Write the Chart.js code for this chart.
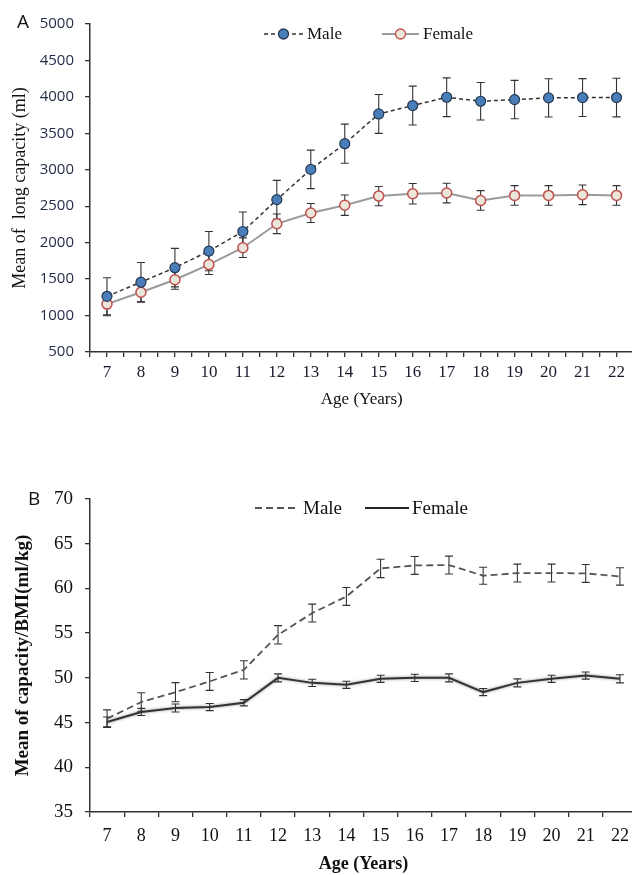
<!DOCTYPE html>
<html>
<head>
<meta charset="utf-8">
<script src="https://cdn.jsdelivr.net/npm/chart.js@4.4.0/dist/chart.umd.min.js"></script>
<style>
  html, body { margin: 0; padding: 0; background: #fff; overflow: hidden; width: 632px; height: 875px; }
  .box { position: absolute; left: 0; width: 640px; }
  #boxA { top: 0; height: 410px; }
  #boxB { top: 470px; height: 405px; }
</style>
</head>
<body>
<div class="box" id="boxA"><canvas id="chartA"></canvas></div>
<div class="box" id="boxB"><canvas id="chartB"></canvas></div>
<script>
// ages on the x axis
const ages = [7, 8, 9, 10, 11, 12, 13, 14, 15, 16, 17, 18, 19, 20, 21, 22];

// panel A: lung capacity (ml), mean and error
const maleCapacity   = [1264, 1458, 1657, 1884, 2153, 2590, 3005, 3358, 3766, 3881, 3995, 3940, 3963, 3986, 3991, 3991];
const maleCapacityErr = [255, 270, 264, 270, 268, 265, 264, 268, 266, 266, 266, 257, 263, 262, 260, 265];
const femaleCapacity = [1157, 1320, 1491, 1699, 1931, 2259, 2407, 2514, 2639, 2671, 2681, 2579, 2648, 2648, 2657, 2648];
const femaleCapacityErr = [160, 132, 130, 135, 135, 135, 130, 140, 132, 140, 135, 135, 135, 135, 135, 135];
const capacityTicks = [500, 1000, 1500, 2000, 2500, 3000, 3500, 4000, 4500, 5000];

// panel B: capacity / BMI (ml/kg)
const maleRatio   = [45.44, 47.3, 48.4, 49.6, 50.9, 54.81, 57.24, 59.1, 62.24, 62.57, 62.61, 61.42, 61.72, 61.72, 61.68, 61.34];
const maleRatioErr = [0.98, 1.04, 1.07, 1.0, 1.02, 1.03, 1.0, 1.0, 1.03, 1.0, 1.0, 0.95, 1.0, 1.0, 1.0, 0.97];
const femaleRatio = [45.07, 46.19, 46.63, 46.74, 47.22, 50.0, 49.44, 49.22, 49.89, 50.0, 50.0, 48.41, 49.44, 49.89, 50.26, 49.89];
const femaleRatioErr = [0.55, 0.4, 0.45, 0.4, 0.35, 0.45, 0.4, 0.4, 0.4, 0.4, 0.45, 0.4, 0.45, 0.4, 0.4, 0.45];
const ratioTicks = [35, 40, 45, 50, 55, 60, 65, 70];

const SERIF = '"Liberation Serif", "Times New Roman", serif';
const SANS = '"Open Sans", "Noto Sans", sans-serif';

// error bars drawn through the chart's own scales
const errorBars = {
    id: 'errorBars',
    beforeDatasetsDraw(chart) {
        const ctx = chart.ctx;
        const yScale = chart.scales.y;
        chart.data.datasets.forEach((ds, di) => {
            if (!ds.errors) return;
            const meta = chart.getDatasetMeta(di);
            ctx.save();
            ctx.strokeStyle = ds.errorColor || '#333';
            ctx.lineWidth = 1.1;
            meta.data.forEach((pt, i) => {
                const v = ds.data[i];
                const val = typeof v === 'object' ? v.y : v;
                const top = yScale.getPixelForValue(val + ds.errors[i]);
                const bot = yScale.getPixelForValue(val - ds.errors[i]);
                const x = pt.x, w = 4;
                ctx.beginPath();
                ctx.moveTo(x, top); ctx.lineTo(x, bot);
                ctx.moveTo(x - w, top); ctx.lineTo(x + w, top);
                ctx.moveTo(x - w, bot); ctx.lineTo(x + w, bot);
                ctx.stroke();
            });
            ctx.restore();
        });
    },
    // soft grey halo under lines that ask for it
    beforeDatasetDraw(chart, args) {
        const ds = chart.data.datasets[args.index];
        if (ds.halo) {
            chart.ctx.save();
            chart.ctx.shadowColor = 'rgba(0,0,0,0.45)';
            chart.ctx.shadowBlur = 3;
        }
    },
    afterDatasetDraw(chart, args) {
        if (chart.data.datasets[args.index].halo) chart.ctx.restore();
    }
};

// legend + panel letter
const keyPlugin = {
    id: 'keyPlugin',
    afterDraw(chart, args, opts) {
        const ctx = chart.ctx;
        ctx.save();
        ctx.fillStyle = '#111';
        ctx.font = '19px ' + SANS;
        ctx.textBaseline = 'middle';
        ctx.fillText(opts.letter, opts.letterX, opts.letterY);
        opts.items.forEach(it => {
            ctx.strokeStyle = it.color;
            ctx.lineWidth = it.width;
            ctx.setLineDash(it.dash || []);
            ctx.beginPath();
            ctx.moveTo(it.x1, opts.y); ctx.lineTo(it.x2, opts.y);
            ctx.stroke();
            ctx.setLineDash([]);
            if (it.marker) {
                ctx.beginPath();
                ctx.arc((it.x1 + it.x2) / 2, opts.y, 5, 0, Math.PI * 2);
                ctx.fillStyle = it.marker.fill;
                ctx.fill();
                ctx.lineWidth = 1.3;
                ctx.strokeStyle = it.marker.stroke;
                ctx.stroke();
            }
            ctx.fillStyle = '#111';
            ctx.font = opts.font;
            ctx.textBaseline = 'middle';
            ctx.fillText(it.label, it.textX, opts.y + 1);
        });
        ctx.restore();
    }
};

const axisLine = { color: '#333', width: 1.5 };

new Chart(document.getElementById('chartA'), {
    type: 'line',
    data: {
        datasets: [
            {
                label: 'Male',
                data: ages.map((a, i) => ({ x: a, y: maleCapacity[i] })),
                errors: maleCapacityErr,
                borderColor: '#333',
                borderDash: [4, 3],
                borderWidth: 1.5,
                pointRadius: 5,
                pointBackgroundColor: '#4a7ebb',
                pointBorderColor: '#24384f',
                pointBorderWidth: 1.2
            },
            {
                label: 'Female',
                data: ages.map((a, i) => ({ x: a, y: femaleCapacity[i] })),
                errors: femaleCapacityErr,
                borderColor: '#9a9a9a',
                borderWidth: 2,
                pointRadius: 5,
                pointBackgroundColor: '#ece6da',
                pointBorderColor: '#c0504d',
                pointBorderWidth: 1.5
            }
        ]
    },
    options: {
        responsive: true,
        maintainAspectRatio: false,
        animation: false,
        layout: { padding: { top: 24, right: 3, left: 0, bottom: 0 } },
        plugins: {
            legend: { display: false },
            tooltip: { enabled: false },
            keyPlugin: {
                letter: 'A', letterX: 17, letterY: 23, y: 34,
                font: '17px ' + SERIF,
                items: [
                    { label: 'Male', x1: 264, x2: 303, textX: 307, color: '#333', width: 1.5, dash: [4, 3],
                      marker: { fill: '#4a7ebb', stroke: '#24384f' } },
                    { label: 'Female', x1: 382, x2: 419, textX: 423, color: '#9a9a9a', width: 2,
                      marker: { fill: '#ece6da', stroke: '#c0504d' } }
                ]
            }
        },
        scales: {
            x: {
                type: 'linear',
                min: ages[0] - 0.5,
                max: ages[ages.length - 1] + 0.5,
                afterFit: s => { s.height = 58; },
                border: axisLine,
                grid: { drawOnChartArea: false, drawTicks: true, tickLength: 5, color: '#333', lineWidth: 1.3 },
                ticks: {
                    stepSize: 0.5, autoSkip: false, maxRotation: 0, padding: 5,
                    color: '#1a1a2e', font: { family: SERIF, size: 17 },
                    callback: v => Number.isInteger(v) ? String(v) : ''
                },
                title: { display: true, text: 'Age (Years)', color: '#111', font: { family: SERIF, size: 17 }, padding: 0 }
            },
            y: {
                min: capacityTicks[0],
                max: capacityTicks[capacityTicks.length - 1],
                afterFit: s => { s.width = 90; },
                border: axisLine,
                grid: { drawOnChartArea: false, drawTicks: true, tickLength: 5, color: '#333', lineWidth: 1.3 },
                ticks: {
                    stepSize: capacityTicks[1] - capacityTicks[0], padding: 11,
                    color: '#1f2a44', font: { family: SANS, size: 15 },
                    callback: v => String(v)
                },
                title: { display: true, text: 'Mean of  long capacity (ml)', color: '#111', font: { family: SERIF, size: 18 }, padding: { top: 9 } }
            }
        }
    },
    plugins: [errorBars, keyPlugin]
});

new Chart(document.getElementById('chartB'), {
    type: 'line',
    data: {
        labels: ages,
        datasets: [
            {
                label: 'Male',
                data: maleRatio,
                errors: maleRatioErr,
                borderColor: '#555',
                borderDash: [7, 4],
                borderWidth: 1.8,
                pointRadius: 0
            },
            {
                label: 'Female',
                data: femaleRatio,
                errors: femaleRatioErr,
                halo: true,
                borderColor: '#333',
                borderWidth: 2,
                pointRadius: 0
            }
        ]
    },
    options: {
        responsive: true,
        maintainAspectRatio: false,
        animation: false,
        layout: { padding: { top: 29, right: 3, left: 0, bottom: 0 } },
        plugins: {
            legend: { display: false },
            tooltip: { enabled: false },
            keyPlugin: {
                letter: 'B', letterX: 28, letterY: 30, y: 38,
                font: '19px ' + SERIF,
                items: [
                    { label: 'Male', x1: 255, x2: 298, textX: 303, color: '#555', width: 1.8, dash: [7, 4] },
                    { label: 'Female', x1: 365, x2: 409, textX: 412, color: '#222', width: 2 }
                ]
            }
        },
        scales: {
            x: {
                offset: true,
                afterFit: s => { s.height = 63; },
                border: axisLine,
                grid: { offset: true, drawOnChartArea: false, drawTicks: true, tickLength: 5, color: '#333', lineWidth: 1.3 },
                ticks: { autoSkip: false, maxRotation: 0, padding: 8, color: '#111', font: { family: SERIF, size: 18 } },
                title: { display: true, text: 'Age (Years)', color: '#111', font: { family: SERIF, size: 18, weight: 'bold' }, padding: 0 }
            },
            y: {
                min: ratioTicks[0],
                max: ratioTicks[ratioTicks.length - 1],
                afterFit: s => { s.width = 90; },
                border: axisLine,
                grid: { drawOnChartArea: false, drawTicks: true, tickLength: 5, color: '#333', lineWidth: 1.3 },
                ticks: {
                    stepSize: ratioTicks[1] - ratioTicks[0], padding: 12,
                    color: '#111', font: { family: SERIF, size: 19 }
                },
                title: { display: true, text: 'Mean of capacity/BMI(ml/kg)', color: '#111', font: { family: SERIF, size: 19, weight: 'bold' }, padding: { top: 12 } }
            }
        }
    },
    plugins: [errorBars, keyPlugin]
});
</script>
</body>
</html>
